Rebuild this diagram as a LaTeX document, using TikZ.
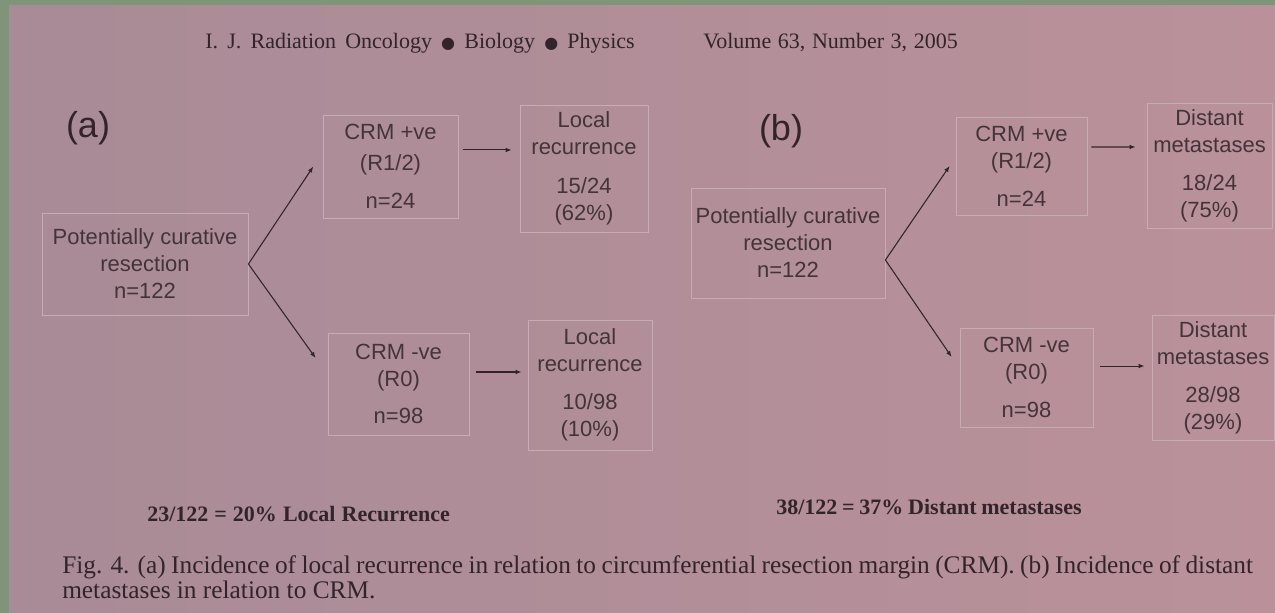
\documentclass[tikz,border=0pt]{standalone}
\usepackage{fontspec}
\setmainfont{Liberation Serif}
\setsansfont{Liberation Sans}
\newfontfamily\symfont{DejaVu Sans}
\usetikzlibrary{arrows.meta}

\definecolor{pagepink}{RGB}{186,145,154}
\definecolor{pageleft}{RGB}{168,139,151}
\definecolor{platen}{RGB}{128,148,122}
\definecolor{ink}{RGB}{50,36,42}
\definecolor{boxink}{RGB}{68,52,58}
\definecolor{boxline}{RGB}{198,172,180}

\newcommand{\hdot}{{\symfont\fontsize{12}{12}\selectfont ●}}

\tikzset{
  crmbox/.style={draw=boxline, line width=0.6pt, align=center, inner sep=0pt,
    font=\sffamily\fontsize{16.5}{20.25}\selectfont, text=boxink},
  link/.style={draw=ink, line width=0.8pt, -{Latex[length=4.5pt,width=3.5pt]}},
  serif/.style={font=\rmfamily\fontsize{16.5}{20}\selectfont, text=ink, inner sep=0pt},
  captext/.style={font=\rmfamily\fontsize{19}{20}\selectfont, text=ink, inner sep=0pt},
  sumtext/.style={font=\rmfamily\bfseries\fontsize{16.5}{20}\selectfont, text=ink, inner sep=0pt},
  tagtext/.style={font=\sffamily\fontsize{27}{27}\selectfont, text=ink},
}

\begin{document}
\begin{tikzpicture}[x=0.75pt,y=0.75pt,yscale=-1,xscale=1]
\useasboundingbox (0,0) rectangle (1275,613);

%Shape: platen and page
\fill[platen] (0,0) rectangle (1275,613);
\shade[left color=pageleft, right color=pagepink] (9,6) rectangle (1275,613);

% Running head
\draw (635,49) node (hdra) [serif, anchor=base east] {\makebox[322pt][s]{I. J. Radiation Oncology \hdot\ Biology \hdot\ Physics}};
\draw (703,49) node (hdrb) [serif, anchor=base west] {\makebox[191pt][s]{Volume 63, Number 3, 2005}};

%Panel (a)
\draw (88,128) node (taga) [tagtext] {(a)};
\node[crmbox, minimum width=154.5pt, minimum height=76.5pt] (pa) at (145,264) {Potentially curative\\resection\\n=122};
\node[crmbox, minimum width=101.25pt, minimum height=77.25pt] (cpa) at (390.5,166.5) {CRM +ve\\[3pt](R1/2)\\[8pt]n=24};
\node[crmbox, minimum width=96pt, minimum height=95.25pt] (lra) at (584,168.5) {Local\\recurrence\\[9pt]15/24\\(62\%)};
\node[crmbox, minimum width=105.75pt, minimum height=76.5pt] (cma) at (398.5,384) {CRM -ve\\(R0)\\[8pt]n=98};
\node[crmbox, minimum width=93pt, minimum height=97.5pt] (lrb) at (590,385) {Local\\recurrence\\[8pt]10/98\\(10\%)};

%Straight Lines (a)
\draw[link] (pa.east) -- ([xshift=-7pt]cpa.west);
\draw[link] (pa.east) -- ([xshift=-9pt,yshift=-19.5pt]cma.west);
\draw[link] ([xshift=3.75pt,yshift=-12.4pt]cpa.east) -- ([xshift=-6pt,yshift=-13.9pt]lra.west);
\draw[link] ([xshift=5.25pt,yshift=-9pt]cma.east) -- ([xshift=-4.5pt,yshift=-9.75pt]lrb.west);

%Panel (b)
\draw (781,131) node (tagb) [tagtext] {(b)};
\node[crmbox, minimum width=145.5pt, minimum height=82.5pt] (pb) at (788,243) {Potentially curative\\resection\\n=122};
\node[crmbox, minimum width=98.25pt, minimum height=73.5pt] (cpb) at (1021.5,166) {CRM +ve\\(R1/2)\\[8pt]n=24};
\node[crmbox, minimum width=93.75pt, minimum height=93.75pt] (dmb) at (1209.5,165.5) {Distant\\metastases\\[8pt]18/24\\(75\%)};
\node[crmbox, minimum width=99.75pt, minimum height=74.25pt] (cmb) at (1026.5,377.5) {CRM -ve\\(R0)\\[8pt]n=98};
\node[crmbox, minimum width=91.5pt, minimum height=93.75pt] (dmc) at (1213,377.5) {Distant\\metastases\\[8pt]28/98\\(29\%)};

%Straight Lines (b)
\draw[link] ([yshift=12.75pt]pb.east) -- ([xshift=-4.5pt]cpb.west);
\draw[link] ([yshift=12.75pt]pb.east) -- ([xshift=-6pt,yshift=-15.4pt]cmb.west);
\draw[link] ([xshift=3pt,yshift=-14.25pt]cpb.east) -- ([xshift=-8.25pt,yshift=-13.9pt]dmb.west);
\draw[link] ([xshift=5.25pt,yshift=-8.6pt]cmb.east) -- ([xshift=-5.25pt,yshift=-8.6pt]dmc.west);

% Totals
\draw (147,521) node (suma) [sumtext, anchor=base west] {\makebox[227pt][s]{23/122 = 20\% Local Recurrence}};
\draw (776,514) node (sumb) [sumtext, anchor=base west] {\makebox[229pt][s]{38/122 = 37\% Distant metastases}};

% Caption
\draw (62,573) node (capa) [captext, anchor=base west] {\makebox[893pt][s]{Fig. 4. (a) Incidence of local recurrence in relation to circumferential resection margin (CRM). (b) Incidence of distant}};
\draw (62,598) node (capb) [captext, anchor=base west] {metastases in relation to CRM.};

\end{tikzpicture}
\end{document}
